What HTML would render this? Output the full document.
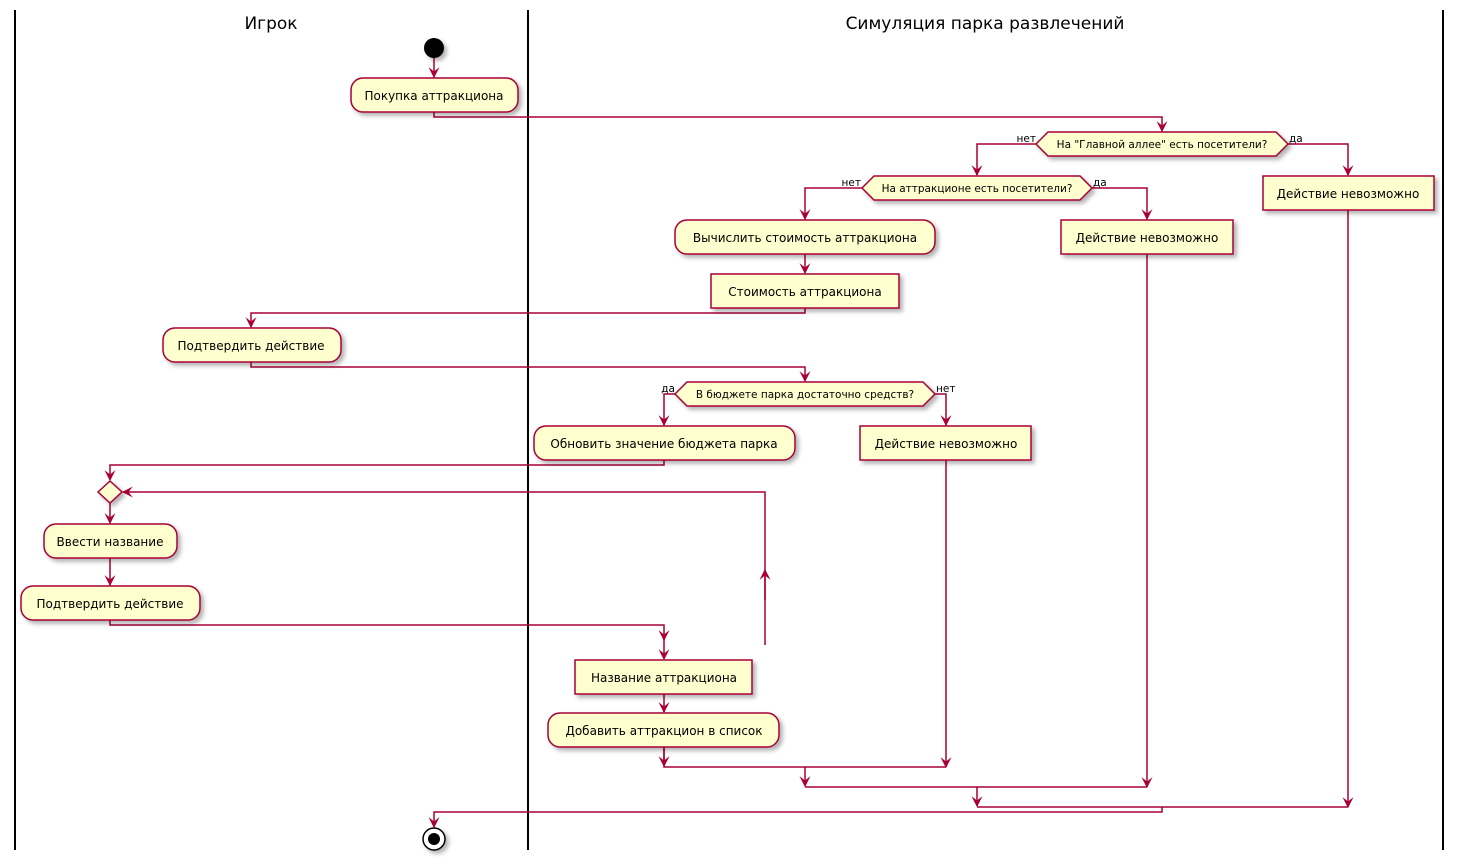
<!DOCTYPE html>
<html><head><meta charset="utf-8"><style>
html,body{margin:0;padding:0;background:#fff}
svg{display:block}
text{font-family:"DejaVu Sans","Liberation Sans",sans-serif;fill:#000}
.n{font-size:12px}
.h{font-size:10.5px}
.l{font-size:10.5px}
.t{font-size:17px}
</style></head><body>
<svg width="1462" height="865" viewBox="0 0 1462 865" xmlns="http://www.w3.org/2000/svg">
<defs>
<filter id="sh" x="-10%" y="-10%" width="130%" height="150%"><feDropShadow dx="3" dy="3" stdDeviation="2" flood-color="#000" flood-opacity="0.3"/></filter>
<marker id="a" viewBox="0 0 10 10" refX="9" refY="5" markerWidth="11" markerHeight="11" orient="auto" markerUnits="userSpaceOnUse"><path d="M0,0 L10,5 L0,10 L4,5 Z" fill="#A80036"/></marker>
</defs>
<g stroke="#000" stroke-width="2">
<line x1="15" y1="10" x2="15" y2="850"/><line x1="528" y1="10" x2="528" y2="850"/><line x1="1443" y1="10" x2="1443" y2="850"/>
</g>
<text class="t" x="271" y="29" text-anchor="middle">Игрок</text>
<text class="t" x="985" y="29" text-anchor="middle">Симуляция парка развлечений</text>

<g fill="none" stroke="#A80036" stroke-width="1.5">
<path d="M434,58 V77" marker-end="url(#a)"/>
<path d="M434,112 V117 H1162 V131" marker-end="url(#a)"/>
<path d="M1036,144 H977 V175" marker-end="url(#a)"/>
<path d="M1288,144 H1348 V175" marker-end="url(#a)"/>
<path d="M862,188 H805 V219" marker-end="url(#a)"/>
<path d="M1092,188 H1147 V219" marker-end="url(#a)"/>
<path d="M805,254 V273" marker-end="url(#a)"/>
<path d="M805,308 V313 H251 V327" marker-end="url(#a)"/>
<path d="M251,362 V367 H805 V381" marker-end="url(#a)"/>
<path d="M675,394 H664 V425" marker-end="url(#a)"/>
<path d="M935,394 H946 V425" marker-end="url(#a)"/>
<path d="M664,460 V465 H110 V480" marker-end="url(#a)"/>
<path d="M765,645 V492 H123" marker-end="url(#a)"/>
<path d="M765,600 V570" marker-end="url(#a)"/>
<path d="M110,503 V523" marker-end="url(#a)"/>
<path d="M110,558 V585" marker-end="url(#a)"/>
<path d="M110,620 V625 H664 V640" marker-end="url(#a)"/>
<path d="M664,640 V659" marker-end="url(#a)"/>
<path d="M664,694 V712" marker-end="url(#a)"/>
<path d="M664,747 V767 H946"/>
<path d="M664,747 V766" marker-end="url(#a)"/>
<path d="M946,460 V767" marker-end="url(#a)"/>
<path d="M805,767 V786" marker-end="url(#a)"/>
<path d="M805,787 H1147"/>
<path d="M1147,254 V787" marker-end="url(#a)"/>
<path d="M977,787 V806" marker-end="url(#a)"/>
<path d="M977,807 H1348"/>
<path d="M1348,210 V807" marker-end="url(#a)"/>
<path d="M1162,807 V812 H434 V827" marker-end="url(#a)"/>
</g>

<g fill="#FEFECE" stroke="#A80036" stroke-width="1.5" filter="url(#sh)">
<circle cx="434" cy="48" r="10" fill="#000" stroke="none"/>
<rect x="351" y="78" width="167" height="34" rx="12"/>
<polygon points="1036,144 1048,132 1276,132 1288,144 1276,156 1048,156"/>
<rect x="1263" y="176" width="171" height="34"/>
<polygon points="862,188 874,176 1080,176 1092,188 1080,200 874,200"/>
<rect x="675" y="220" width="260" height="34" rx="12"/>
<rect x="1061" y="220" width="172" height="34"/>
<rect x="711" y="274" width="188" height="34"/>
<rect x="163" y="328" width="178" height="34" rx="12"/>
<polygon points="675,394 687,382 923,382 935,394 923,406 687,406"/>
<rect x="534" y="426" width="261" height="34" rx="12"/>
<rect x="860" y="426" width="171" height="34"/>
<polygon points="98,492 110,481 122,492 110,503"/>
<rect x="44" y="524" width="133" height="34" rx="12"/>
<rect x="21" y="586" width="179" height="34" rx="12"/>
<rect x="575" y="660" width="177" height="34"/>
<rect x="548" y="713" width="231" height="34" rx="12"/>
<circle cx="434" cy="839" r="11" fill="#fff" stroke="#000"/>
</g>
<circle cx="434" cy="839" r="6" fill="#000"/>

<g class="n" text-anchor="middle">
<text x="434" y="100">Покупка аттракциона</text>
<text x="1348" y="198">Действие невозможно</text>
<text x="805" y="242">Вычислить стоимость аттракциона</text>
<text x="1147" y="242">Действие невозможно</text>
<text x="805" y="296">Стоимость аттракциона</text>
<text x="251" y="350">Подтвердить действие</text>
<text x="664" y="448">Обновить значение бюджета парка</text>
<text x="946" y="448">Действие невозможно</text>
<text x="110" y="546">Ввести название</text>
<text x="110" y="608">Подтвердить действие</text>
<text x="664" y="682">Название аттракциона</text>
<text x="664" y="735">Добавить аттракцион в список</text>
</g>
<g class="h" text-anchor="middle">
<text x="1162" y="148">На "Главной аллее" есть посетители?</text>
<text x="977" y="192">На аттракционе есть посетители?</text>
<text x="805" y="398">В бюджете парка достаточно средств?</text>
</g>
<g class="l">
<text x="1036" y="142" text-anchor="end">нет</text>
<text x="1289" y="142">да</text>
<text x="861" y="186" text-anchor="end">нет</text>
<text x="1093" y="186">да</text>
<text x="675" y="392" text-anchor="end">да</text>
<text x="936" y="392">нет</text>
</g>
</svg>
</body></html>
